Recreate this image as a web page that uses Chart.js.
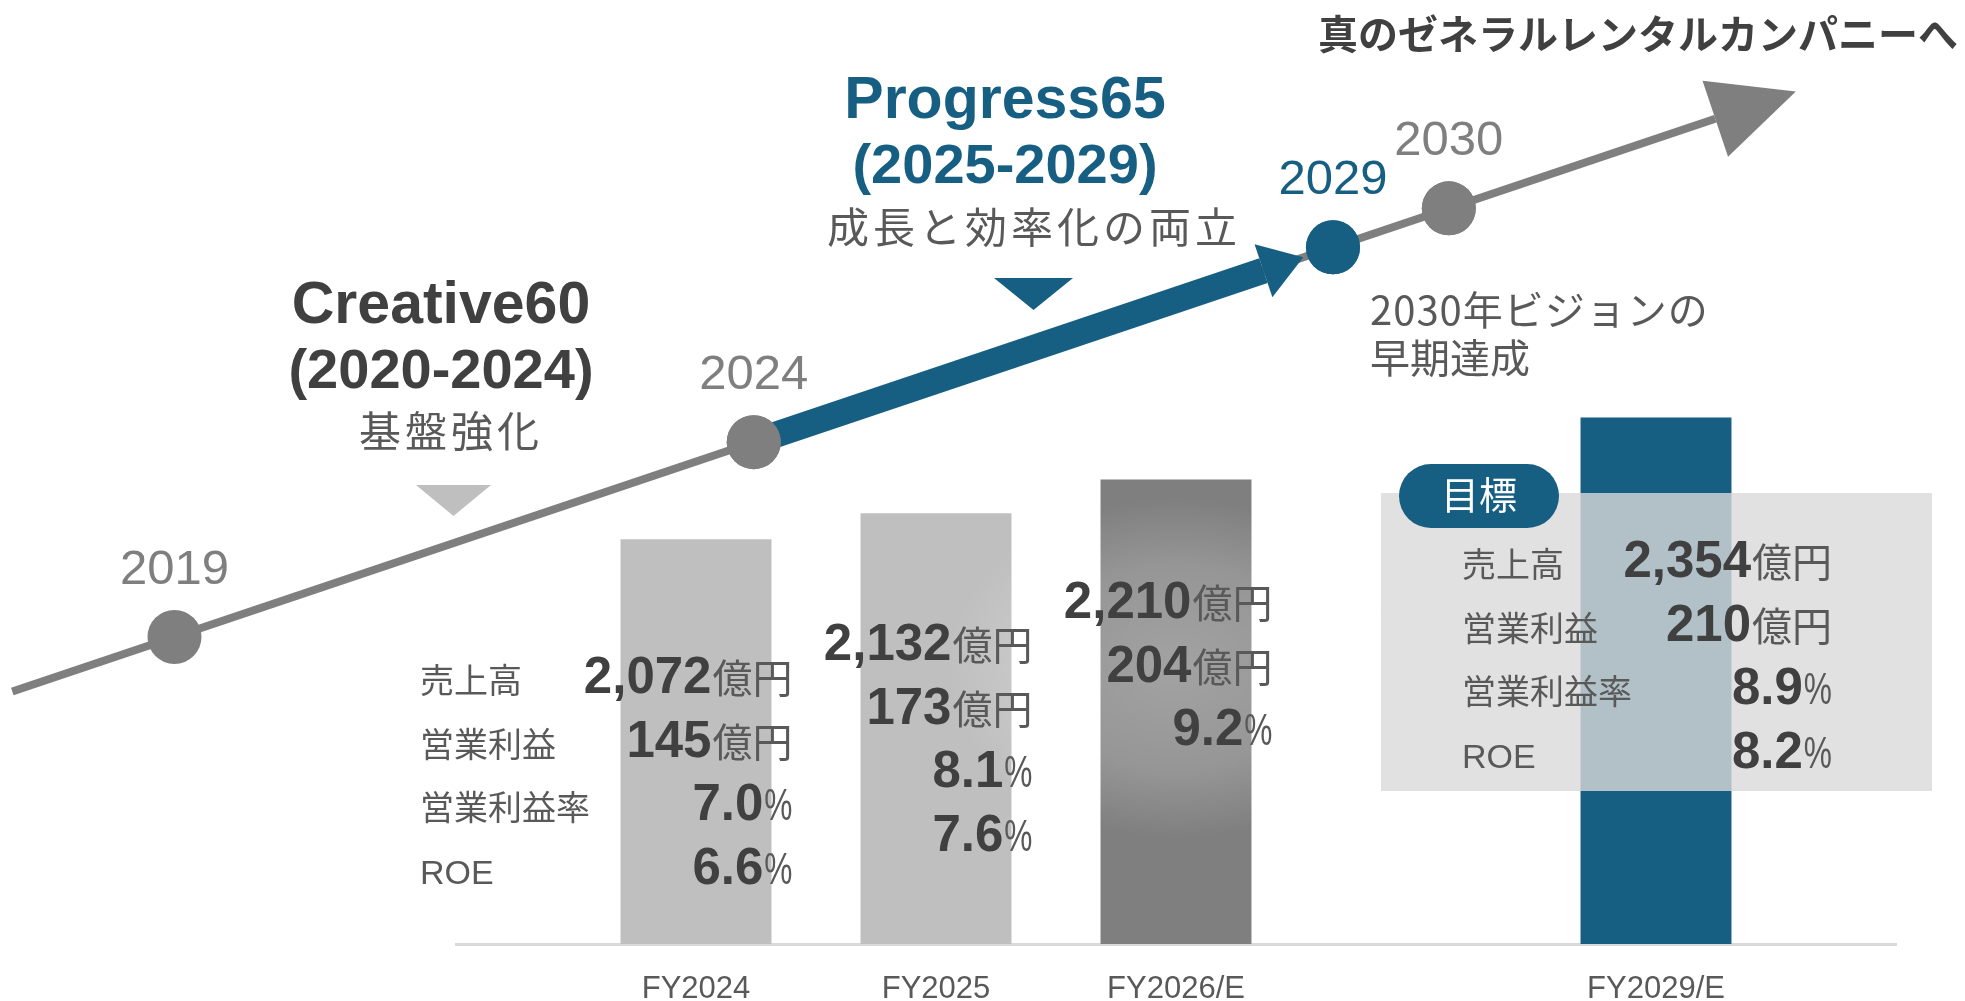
<!DOCTYPE html>
<html lang="ja">
<head>
<meta charset="utf-8">
<script src="https://cdn.jsdelivr.net/npm/chart.js@4.4.1/dist/chart.umd.min.js"></script>
<style>
  html, body { margin: 0; padding: 0; background: #fff; }
  #wrap { width: 1965px; height: 1001px; }
</style>
</head>
<body>
<div id="wrap"><canvas id="plan-chart"></canvas></div>
<script>
// bar categories (empty slots keep the gap before FY2029/E)
const categories = ['', 'FY2024', 'FY2025', 'FY2026/E', '', 'FY2029/E', ''];
const sales = [null, 2072, 2132, 2210, null, 2354, null];   // 売上高 億円
const opProfit = [null, 145, 173, 204, null, 210, null];    // 営業利益 億円
const opMargin = [null, 7.0, 8.1, 9.2, null, 8.9, null];   // 営業利益率 %
const roe = [null, 6.6, 7.6, null, null, 8.2, null];        // ROE %
const barColors = ['#bfbfbf', '#bfbfbf', '#bfbfbf', '#7f7f7f', '#bfbfbf', '#175f82', '#bfbfbf'];
const rowLabels = ['売上高', '営業利益', '営業利益率', 'ROE'];

// timeline
const timelineYears = [2019, 2024, 2029, 2030];
const timelineColors = ['#7f7f7f', '#7f7f7f', '#175f82', '#7f7f7f'];
const timelineSpan = [2017.6, 2032.3];
const progressSpan = [2024, 2028.4];

const BLUE = '#175f82', DARK = '#404040', MID = '#595959', GRAY = '#7f7f7f';
const LATIN = "'Liberation Sans', 'Noto Sans CJK JP', sans-serif";
const CJK = "'Noto Sans CJK JP', sans-serif";

function txt(ctx, s, x, y, font, color, align, spacing) {
    ctx.font = font;
    ctx.fillStyle = color;
    ctx.textAlign = align || 'left';
    ctx.textBaseline = 'alphabetic';
    let dx = 0;
    if (spacing) {
        ctx.letterSpacing = spacing + 'px';
        if (align === 'center') dx = spacing / 2;
        if (align === 'right') dx = spacing;
    }
    ctx.fillText(s, x + dx, y);
    ctx.letterSpacing = '0px';
}

function valueTxt(ctx, num, unit, right, y) {
    let uw;
    if (unit === '%') {
        // narrow, tall percent sign
        ctx.font = "44px 'Liberation Sans'";
        uw = ctx.measureText('%').width * 0.72;
        ctx.save();
        ctx.translate(right - uw, y);
        ctx.scale(0.72, 1);
        txt(ctx, '%', 0, 0, "44px 'Liberation Sans'", MID, 'left');
        ctx.restore();
    } else {
        ctx.font = '40px ' + CJK;
        uw = ctx.measureText(unit).width;
        txt(ctx, unit, right, y, '40px ' + CJK, MID, 'right');
    }
    txt(ctx, num, right - uw - 1, y, "bold 51px 'Liberation Sans'", DARK, 'right');
}

function tri(ctx, pts, color) {
    ctx.beginPath();
    ctx.moveTo(pts[0][0], pts[0][1]);
    ctx.lineTo(pts[1][0], pts[1][1]);
    ctx.lineTo(pts[2][0], pts[2][1]);
    ctx.closePath();
    ctx.fillStyle = color;
    ctx.fill();
}

const overlay = {
    id: 'overlay',
    afterDatasetsDraw(chart) {
        const ctx = chart.ctx;
        ctx.save();

        // arrow heads at the end of timeline lines
        chart.data.datasets.forEach((ds, i) => {
            if (!ds.arrow) return;
            const pts = chart.getDatasetMeta(i).data;
            const a = pts[pts.length - 2], b = pts[pts.length - 1];
            const ang = Math.atan2(b.y - a.y, b.x - a.x);
            const ux = Math.cos(ang), uy = Math.sin(ang);
            const w = ds.arrow.width / 2, l = ds.arrow.length;
            tri(ctx, [[b.x - uy * w, b.y + ux * w], [b.x + uy * w, b.y - ux * w],
                [b.x + ux * l, b.y + uy * l]], ds.borderColor);
        });

        // milestone circles (also those left of the plot area) and year labels
        const dots = chart.getDatasetMeta(3).data;
        dots.forEach((p, k) => {
            ctx.beginPath();
            ctx.arc(p.x, p.y, 27, 0, Math.PI * 2);
            ctx.fillStyle = timelineColors[k];
            ctx.fill();
            txt(ctx, String(timelineYears[k]), p.x, p.y - 53, '49px ' + LATIN, timelineColors[k], 'center');
        });

        // title and phase captions
        txt(ctx, '真のゼネラルレンタルカンパニーへ', 1958, 49, 'bold 40px ' + CJK, DARK, 'right');
        txt(ctx, 'Creative60', 441, 323, "bold 59px 'Liberation Sans'", DARK, 'center');
        txt(ctx, '(2020-2024)', 441, 388, "bold 56px 'Liberation Sans'", DARK, 'center');
        txt(ctx, '基盤強化', 449, 447, '42px ' + CJK, MID, 'center', 4);
        tri(ctx, [[416, 485], [491, 485], [453.5, 516]], '#bfbfbf');

        txt(ctx, 'Progress65', 1005, 118, "bold 59px 'Liberation Sans'", BLUE, 'center');
        txt(ctx, '(2025-2029)', 1005, 183, "bold 56px 'Liberation Sans'", BLUE, 'center');
        txt(ctx, '成長と効率化の両立', 1032, 243, '42px ' + CJK, MID, 'center', 4);
        tri(ctx, [[994, 278], [1073, 278], [1033.5, 310]], BLUE);

        txt(ctx, '2030年ビジョンの', 1370, 325, '40px ' + CJK, MID, 'left', 1);
        txt(ctx, '早期達成', 1370, 373, '40px ' + CJK, MID, 'left');

        const bars = chart.getDatasetMeta(0).data;

        // soft glow behind FY2026/E figures
        const g = bars[3];
        ctx.save();
        ctx.translate(g.x, 668);
        ctx.scale(1.35, 1);
        const rg = ctx.createRadialGradient(0, 0, 0, 0, 0, 170);
        rg.addColorStop(0, 'rgba(255,255,255,0.28)');
        rg.addColorStop(0.6, 'rgba(255,255,255,0.18)');
        rg.addColorStop(1, 'rgba(255,255,255,0)');
        ctx.fillStyle = rg;
        ctx.fillRect(-170, -170, 340, 340);
        ctx.restore();

        // target box over FY2029/E bar
        ctx.fillStyle = 'rgba(217,217,217,0.8)';
        ctx.fillRect(1381, 493, 551, 298);
        ctx.beginPath();
        ctx.roundRect(1399, 464, 160, 64, 32);
        ctx.fillStyle = BLUE;
        ctx.fill();
        txt(ctx, '目標', 1479, 509, '38px ' + CJK, '#ffffff', 'center');

        // figures
        const firstRow = {1: 693, 2: 660, 3: 618, 5: 577};
        const gap = 63.5;
        [1, 2, 3, 5].forEach(i => {
            const b = bars[i];
            const right = i === 5 ? 1832 : b.x + b.width / 2 + 21;
            const y0 = firstRow[i];
            const rows = [
                [sales[i] == null ? null : sales[i].toLocaleString('en-US'), '億円'],
                [opProfit[i] == null ? null : String(opProfit[i]), '億円'],
                [opMargin[i] == null ? null : opMargin[i].toFixed(1), '%'],
                [roe[i] == null ? null : roe[i].toFixed(1), '%']
            ];
            rows.forEach((r, k) => {
                if (r[0] != null) valueTxt(ctx, r[0], r[1], right, y0 + gap * k);
            });
        });
        rowLabels.forEach((s, k) => {
            txt(ctx, s, 420, 693 + gap * k, '34px ' + LATIN, MID, 'left');
            txt(ctx, s, 1462, 577 + gap * k, '34px ' + LATIN, MID, 'left');
        });

        ctx.restore();
    }
};

Chart.defaults.font.family = LATIN;

new Chart(document.getElementById('plan-chart'), {
    type: 'bar',
    data: {
        labels: categories,
        datasets: [
            {
                data: sales,
                backgroundColor: barColors,
                barPercentage: 0.629,
                categoryPercentage: 1,
                grouped: false,
                order: 4
            },
            {
                type: 'line',
                xAxisID: 'x2',
                yAxisID: 'y2',
                data: timelineSpan.map(v => ({x: v, y: v})),
                borderColor: GRAY,
                borderWidth: 8,
                borderCapStyle: 'butt',
                pointRadius: 0,
                clip: false,
                order: 3,
                arrow: {length: 85, width: 80}
            },
            {
                type: 'line',
                xAxisID: 'x2',
                yAxisID: 'y2',
                data: progressSpan.map(v => ({x: v, y: v})),
                borderColor: BLUE,
                borderWidth: 26,
                borderCapStyle: 'butt',
                pointRadius: 0,
                clip: false,
                order: 2,
                arrow: {length: 42, width: 56}
            },
            {
                type: 'scatter',
                xAxisID: 'x2',
                yAxisID: 'y2',
                data: timelineYears.map(v => ({x: v, y: v})),
                pointRadius: 27,
                pointBackgroundColor: timelineColors,
                pointBorderWidth: 0,
                clip: false,
                order: 1
            }
        ]
    },
    options: {
        responsive: true,
        maintainAspectRatio: false,
        animation: false,
        events: [],
        layout: { autoPadding: false, padding: { left: 456, right: 69, top: 10, bottom: 0 } },
        plugins: { legend: { display: false }, tooltip: { enabled: false } },
        scales: {
            x: {
                type: 'category',
                offset: false,
                grid: { display: false, drawTicks: false },
                border: { display: true, color: '#d9d9d9', width: 3 },
                ticks: { color: MID, font: { size: 31 }, padding: 27, autoSkip: false, maxRotation: 0 },
                afterFit: s => { s.height = 57; }
            },
            y: { display: false, min: 1135, max: 3297 },
            x2: { type: 'linear', display: false, offset: false, min: 2021.43, max: 2033.86 },
            y2: { type: 'linear', display: false, offset: false, min: 2011.12, max: 2035.09 }
        }
    },
    plugins: [overlay]
});
</script>
</body>
</html>
